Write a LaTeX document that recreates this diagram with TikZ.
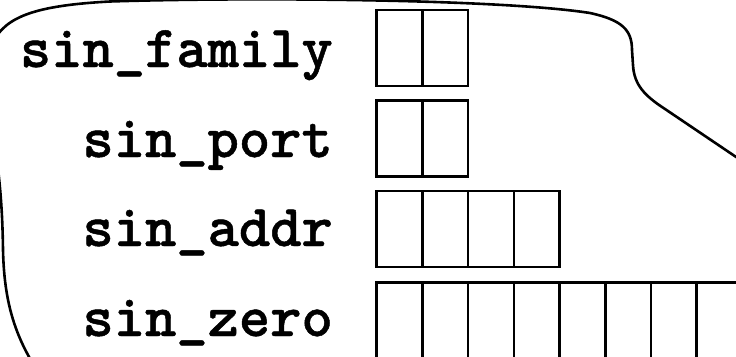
\documentclass[tikz,border=0pt]{standalone}
\usepackage{fontspec}
\newfontfamily\lblfont{lmmonolt10-bold.otf}[FakeBold=0.8]
\begin{document}
\begin{tikzpicture}[x=1pt,y=-1pt,
  cell/.style={draw,line width=2.6pt,minimum width=45.7pt,minimum height=76pt,inner sep=0pt,outer sep=0pt,anchor=north west},
  lbl/.style={anchor=base east,inner sep=0pt,font=\fontsize{59.6}{66}\selectfont\lblfont}]
\useasboundingbox (0,0) rectangle (736,356);
\clip (0,0) rectangle (736,356);
% labels
\node[lbl] (l1) at (333,67) {sin\_family};
\node[lbl] (l2) at (333,157) {sin\_port};
\node[lbl] (l3) at (333,246) {sin\_addr};
\node[lbl] (l4) at (333,336) {sin\_zero};
% cells
\foreach \i in {0,1} \node[cell] (a\i) at (376.7+45.7*\i,10) {};
\foreach \i in {0,1} \node[cell] (b\i) at (376.7+45.7*\i,100.7) {};
\foreach \i in {0,...,3} \node[cell] (c\i) at (376.7+45.7*\i,191) {};
\foreach \i in {0,...,7} \node[cell] (d\i) at (376.7+45.7*\i,282.7) {};
% outline
\draw[line width=2.6pt]
  (32,362) .. controls (10,325) and (4,290) .. (3,250)
  .. controls (2.5,210) and (0,185) .. (-3,160)
  .. controls (-10,110) and (-25,80) .. (-10,48)
  .. controls (2,20) and (25,6) .. (110,1.5)
  .. controls (250,-3) and (500,-1) .. (590,13)
  .. controls (622,20) and (632,30) .. (632,50)
  -- (633,65) .. controls (634,85) and (645,96) .. (665,109)
  -- (745,163);
\end{tikzpicture}
\end{document}
